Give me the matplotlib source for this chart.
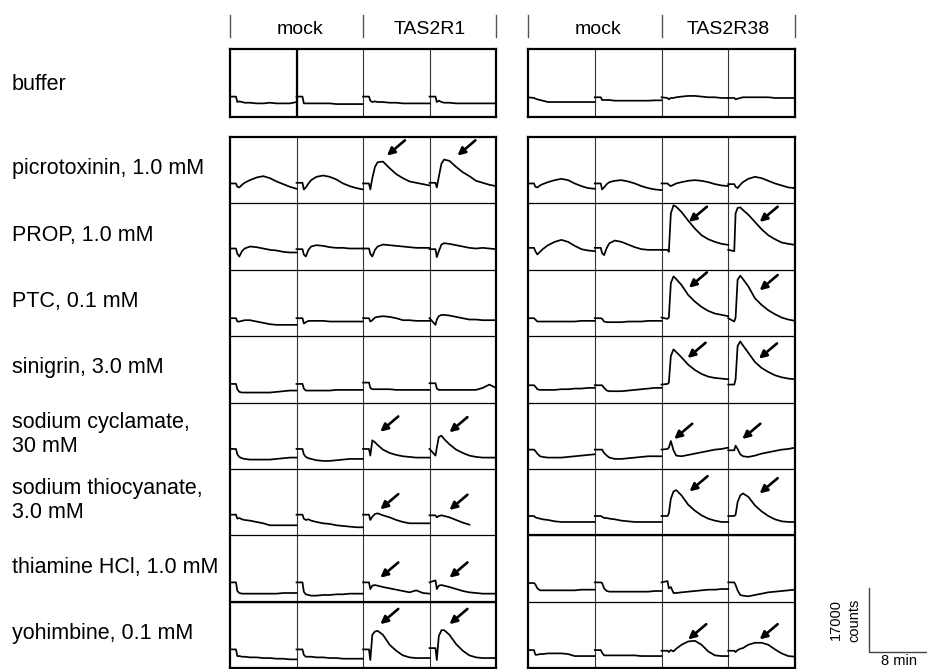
import numpy as np
import matplotlib
matplotlib.use("Agg")
import matplotlib.pyplot as plt
from matplotlib.lines import Line2D
from matplotlib.transforms import blended_transform_factory as blend

plt.rcParams['font.family'] = ['Liberation Sans', 'DejaVu Sans']

# ---------------- data ----------------
group_names = ["TAS2R1", "TAS2R38"]
column_headers = ["mock", "TAS2R1", "mock", "TAS2R38"]
row_labels = ["picrotoxinin, 1.0 mM", "PROP, 1.0 mM", "PTC, 0.1 mM",
              "sinigrin, 3.0 mM", "sodium cyclamate,\n30 mM",
              "sodium thiocyanate,\n3.0 mM", "thiamine HCl, 1.0 mM",
              "yohimbine, 0.1 mM"]
buffer_label = "buffer"
scale_y_label = "17000\ncounts"
scale_x_label = "8 min"

# sampling times as a fraction of each panel's time window
t_frac = [0, .09, .11, .14, .18, .22, .3, .4, .5, .6, .7, .8, .9, 1.0]
nan = np.nan

# signal as a fraction of each panel's height; 4 wells per row (mock, mock, receptor, receptor)
buffer_TAS2R1 = [
    [.30, .30, .22, .23, .22, .21, .21, .20, .20, .21, .20, .20, .20, .22],
    [.30, .30, .20, .20, .20, .20, .20, .20, .20, .19, .19, .19, .19, .19],
    [.30, .30, .24, .22, .23, .22, .22, .21, .21, .20, .20, .20, .20, .20],
    [.30, .30, .22, .24, .22, .21, .21, .20, .20, .20, .20, .20, .20, .20]]
buffer_TAS2R38 = [
    [.29, .28, .27, .26, .25, .24, .22, .22, .22, .22, .22, .22, .22, .22],
    [.29, .29, .25, .25, .25, .25, .24, .24, .24, .24, .24, .24, .245, .245],
    [.29, .28, .26, .28, .28, .29, .30, .31, .31, .30, .29, .29, .28, .28],
    [.28, .28, .26, .27, .28, .29, .29, .29, .29, .29, .28, .28, .28, .28]]

picrotoxinin_TAS2R1 = [
    [.30, .30, .25, .24, .28, .31, .35, .39, .41, .38, .33, .29, .25, .22],
    [.31, .31, .21, .24, .30, .35, .40, .42, .40, .36, .30, .26, .23, .21],
    [.30, .30, .21, .38, .55, .62, .63, .53, .44, .38, .33, .31, .29, .27],
    [.31, .31, .24, .40, .60, .66, .64, .55, .47, .41, .34, .31, .28, .26]]
picrotoxinin_TAS2R38 = [
    [.30, .30, .25, .24, .27, .29, .32, .35, .37, .35, .30, .26, .23, .22],
    [.30, .30, .21, .24, .29, .32, .34, .35, .33, .30, .26, .23, .21, .20],
    [.30, .30, .28, .26, .28, .30, .32, .34, .35, .34, .32, .29, .27, .26],
    [.29, .29, .25, .23, .28, .32, .37, .40, .38, .34, .30, .27, .24, .23]]

prop_TAS2R1 = [
    [.32, .32, .24, .20, .28, .32, .35, .34, .32, .30, .29, .27, .26, .26],
    [.31, .31, .23, .20, .30, .35, .37, .36, .34, .33, .33, .32, .32, .32],
    [.32, .32, .24, .20, .30, .35, .38, .37, .36, .35, .34, .33, .33, .33],
    [.31, .31, .19, .28, .38, .40, .39, .37, .35, .33, .32, .33, .32, .31]]
prop_TAS2R38 = [
    [.33, .33, .28, .23, .27, .31, .37, .42, .45, .42, .36, .31, .29, .28],
    [.33, .33, .25, .22, .33, .40, .44, .42, .38, .34, .31, .30, .30, .30],
    [.30, .30, .27, .85, .97, .95, .87, .74, .62, .52, .46, .42, .39, .375],
    [.30, .28, .85, .93, .94, .90, .83, .72, .61, .52, .46, .41, .39, .375]]

ptc_TAS2R1 = [
    [.27, .27, .22, .22, .23, .24, .24, .22, .20, .18, .17, .17, .17, .17],
    [.27, .27, .19, .21, .23, .23, .23, .23, .22, .22, .22, .22, .22, .22],
    [.27, .27, .22, .24, .28, .29, .30, .29, .27, .24, .24, .23, .23, .23],
    [.27, .17, .25, .30, .32, .32, .31, .29, .27, .25, .25, .24, .24, .24]]
ptc_TAS2R38 = [
    [.27, .27, .25, .22, .22, .22, .22, .22, .22, .22, .22, .23, .23, .23],
    [.27, .27, .26, .22, .21, .21, .21, .21, .22, .22, .22, .23, .23, .23],
    [.28, .26, .28, .80, .90, .86, .77, .62, .52, .44, .38, .34, .32, .30],
    [.27, .22, .28, .85, .91, .86, .75, .57, .47, .39, .33, .28, .25, .23]]

sinigrin_TAS2R1 = [
    [.28, .28, .20, .16, .15, .15, .15, .15, .15, .15, .16, .17, .18, .18],
    [.28, .28, .21, .18, .18, .18, .18, .18, .18, .19, .19, .19, .19, .19],
    [.30, .30, .22, .20, .20, .20, .20, .20, .19, .19, .19, .19, .19, .19],
    [.29, .29, .21, .19, .19, .19, .19, .19, .19, .19, .19, .22, .27, .22]]
sinigrin_TAS2R38 = [
    [.26, .26, .24, .20, .19, .19, .19, .19, .20, .20, .21, .21, .22, .22],
    [.26, .26, .26, .22, .18, .17, .17, .17, .18, .19, .20, .21, .22, .22],
    [.27, .28, .30, .70, .80, .76, .68, .57, .49, .43, .39, .37, .36, .35],
    [.27, .27, .35, .85, .92, .86, .75, .61, .52, .46, .41, .38, .36, .35]]

cyclamate_TAS2R1 = [
    [.30, .30, .22, .18, .16, .15, .14, .14, .14, .14, .15, .16, .17, .17],
    [.30, .30, .22, .18, .16, .15, .13, .12, .12, .13, .14, .15, .15, .15],
    [.30, .30, .20, .43, .40, .36, .29, .24, .21, .19, .18, .17, .17, .17],
    [.30, .20, .32, .48, .50, .45, .37, .29, .24, .20, .18, .17, .17, .17]]
cyclamate_TAS2R38 = [
    [.29, .29, .27, .23, .19, .18, .17, .17, .17, .18, .19, .20, .21, .22],
    [.29, .29, .29, .24, .20, .17, .15, .15, .16, .17, .18, .19, .19, .19],
    [.29, .30, .32, .42, .28, .20, .19, .21, .23, .25, .27, .29, .30, .32],
    [.28, .28, .35, .30, .22, .19, .18, .20, .23, .25, .27, .29, .30, .32]]

thiocyanate_TAS2R1 = [
    [.31, .31, .25, .26, .24, .23, .22, .20, .18, .15, .15, .15, .15, .15],
    [.31, .31, .25, .23, .24, .22, .20, .18, .17, .15, .14, .13, .12, .12],
    [.31, .31, .23, .28, .32, .33, .30, .27, .23, .20, .18, .18, .18, .18],
    [.30, .30, .27, .29, .30, .29, .27, .23, .19, .16, nan, nan, nan, nan]]
thiocyanate_TAS2R38 = [
    [.29, .29, .27, .26, .25, .24, .23, .21, .20, .20, .20, .20, .20, .20],
    [.29, .29, .28, .26, .26, .25, .24, .22, .21, .20, .20, .20, .20, .20],
    [.29, .29, .33, .55, .66, .68, .60, .46, .37, .30, .25, .22, .20, .20],
    [.29, .29, .31, .50, .60, .63, .58, .45, .36, .29, .24, .21, .20, .20]]

thiamine_TAS2R1 = [
    [.29, .29, .16, .13, .12, .12, .12, .12, .12, .12, .12, .13, .13, .13],
    [.29, .29, .15, .11, .10, .09, .09, .10, .10, .11, .11, .12, .12, .12],
    [.29, .29, .19, .24, .25, .24, .22, .20, .18, .16, .14, .17, .13, .12],
    [.29, .32, .19, .24, .25, .24, .22, .19, .16, .14, .13, .12, .12, .12]]
thiamine_TAS2R38 = [
    [.28, .28, .26, .20, .17, .17, .17, .17, .17, .17, .17, .18, .18, .18],
    [.29, .29, .28, .20, .16, .15, .15, .15, .15, .15, .15, .15, .16, .16],
    [.29, .31, .20, .22, .13, .13, .14, .15, .16, .17, .18, .18, .19, .19],
    [.29, .29, .25, .17, .10, .09, .08, .10, .12, .14, .15, .16, .17, .18]]

yohimbine_TAS2R1 = [
    [.28, .28, .18, .18, .17, .17, .16, .16, .15, .15, .14, .14, .13, .13],
    [.28, .28, .20, .17, .17, .17, .16, .16, .15, .15, .14, .14, .14, .14],
    [.28, .28, .12, .50, .55, .56, .50, .35, .26, .19, .16, .15, .15, .15],
    [.30, .30, .12, .48, .57, .57, .50, .36, .26, .19, .16, .15, .15, .15]]
yohimbine_TAS2R38 = [
    [.27, .27, .20, .20, .21, .21, .22, .22, .22, .21, .18, .18, .18, .18],
    [.27, .27, .23, .19, .19, .19, .19, .19, .19, .19, .18, .18, .18, .18],
    [.26, .26, .24, .27, .25, .29, .35, .40, .41, .35, .25, .19, .18, .18],
    [.26, .26, .24, .27, .29, .30, .35, .38, .38, .35, .28, .22, .18, .17]]

rows_TAS2R1 = [picrotoxinin_TAS2R1, prop_TAS2R1, ptc_TAS2R1, sinigrin_TAS2R1,
               cyclamate_TAS2R1, thiocyanate_TAS2R1, thiamine_TAS2R1, yohimbine_TAS2R1]
rows_TAS2R38 = [picrotoxinin_TAS2R38, prop_TAS2R38, ptc_TAS2R38, sinigrin_TAS2R38,
                cyclamate_TAS2R38, thiocyanate_TAS2R38, thiamine_TAS2R38, yohimbine_TAS2R38]

# arrows: (row, well, tip x fraction, tip y fraction)
arrows_TAS2R1 = [(0, 2, .36, .72), (0, 3, .42, .72),
                 (4, 2, .26, .56), (4, 3, .30, .55),
                 (5, 2, .26, .39), (5, 3, .30, .38),
                 (6, 2, .26, .36), (6, 3, .30, .36),
                 (7, 2, .26, .66), (7, 3, .30, .66)]
arrows_TAS2R38 = [(1, 2, .41, .72), (1, 3, .47, .72),
                  (2, 2, .41, .73), (2, 3, .47, .69),
                  (3, 2, .39, .67), (3, 3, .46, .66),
                  (4, 2, .19, .45), (4, 3, .21, .45),
                  (5, 2, .42, .66), (5, 3, .47, .63),
                  (7, 2, .40, .43), (7, 3, .47, .43)]

# ---------------- layout ----------------
W, H = 927, 669
fig = plt.figure(figsize=(W / 100, H / 100), dpi=100)


def fx(px):
    return px / W


def fy(py):
    return (H - py) / H


group_x = [(230, 496), (528, 795)]
buf_top, buf_bot = 49, 117
main_top, main_bot = 137, 668
n_rows = len(row_labels)

t = np.array(t_frac)
arrow_off = (0.27, 0.23)
trace_lw = 1.25


def style_axes(ax, nr):
    ax.set_xlim(0, 4)
    ax.set_ylim(0, nr)
    ax.set_xticks([])
    ax.set_yticks([])
    for s in ax.spines.values():
        s.set_linewidth(1.6)
        s.set_color('black')
    for c in (1, 2, 3):
        ax.axvline(c, color='#333333', lw=0.8)
    for r in range(1, nr):
        ax.axhline(r, color='black', lw=0.9)


main_axes = []
for gi, (gname, rows, buf, arrows) in enumerate([
        (group_names[0], rows_TAS2R1, buffer_TAS2R1, arrows_TAS2R1),
        (group_names[1], rows_TAS2R38, buffer_TAS2R38, arrows_TAS2R38)]):
    x0, x1 = group_x[gi]
    axb = fig.add_axes([fx(x0), fy(buf_bot), fx(x1) - fx(x0), fy(buf_top) - fy(buf_bot)])
    style_axes(axb, 1)
    for c, trace in enumerate(buf):
        axb.plot(c + t, np.array(trace), color='black', lw=trace_lw)
    if gi == 0:
        axb.axvline(1, color='black', lw=1.6)

    axm = fig.add_axes([fx(x0), fy(main_bot), fx(x1) - fx(x0), fy(main_top) - fy(main_bot)])
    style_axes(axm, n_rows)
    if gi == 0:
        axm.axhline(1, color='black', lw=1.6)
    else:
        axm.axhline(2, color='black', lw=1.6)
    for r, wells in enumerate(rows):
        base = n_rows - 1 - r
        for c, trace in enumerate(wells):
            axm.plot(c + t, base + np.array(trace), color='black', lw=trace_lw)
    for (r, c, ax_, ay_) in arrows:
        base = n_rows - 1 - r
        axm.annotate('', xy=(c + ax_, base + ay_),
                     xytext=(c + ax_ + arrow_off[0], base + ay_ + arrow_off[1]),
                     arrowprops=dict(arrowstyle='-|>', color='black', lw=1.9,
                                     mutation_scale=11, shrinkA=0, shrinkB=0))
    main_axes.append(axm)

    # header separators and labels
    tr = blend(axm.transData, fig.transFigure)
    for xs in (0, 2, 4):
        fig.add_artist(Line2D([xs, xs], [fy(15), fy(37)], transform=tr,
                              color='#555555', lw=1.0))
    fig.text(1.05, fy(29), column_headers[2 * gi], transform=tr,
             ha='center', va='center', fontsize=14)
    fig.text(3.0, fy(29), column_headers[2 * gi + 1], transform=tr,
             ha='center', va='center', fontsize=14)

# row labels
fig.text(fx(12), fy(84), buffer_label, ha='left', va='center', fontsize=15.5)
trl = blend(fig.transFigure, main_axes[0].transData)
for r, lab in enumerate(row_labels):
    yc = n_rows - 1 - r + 0.5 + 0.02
    fig.text(fx(12), yc, lab, transform=trl, ha='left', va='center',
             fontsize=15.5, linespacing=1.2)

# scale bar
fig.add_artist(Line2D([fx(869), fx(869), fx(927)], [fy(588), fy(652), fy(652)],
                      color='#444444', lw=1.0))
fig.text(fx(845), fy(620), scale_y_label, rotation=90, ha='center', va='center',
         fontsize=10.5, linespacing=1.35)
fig.text(fx(899), fy(661), scale_x_label, ha='center', va='center', fontsize=10.5)

fig.savefig("out.png", dpi=100)
